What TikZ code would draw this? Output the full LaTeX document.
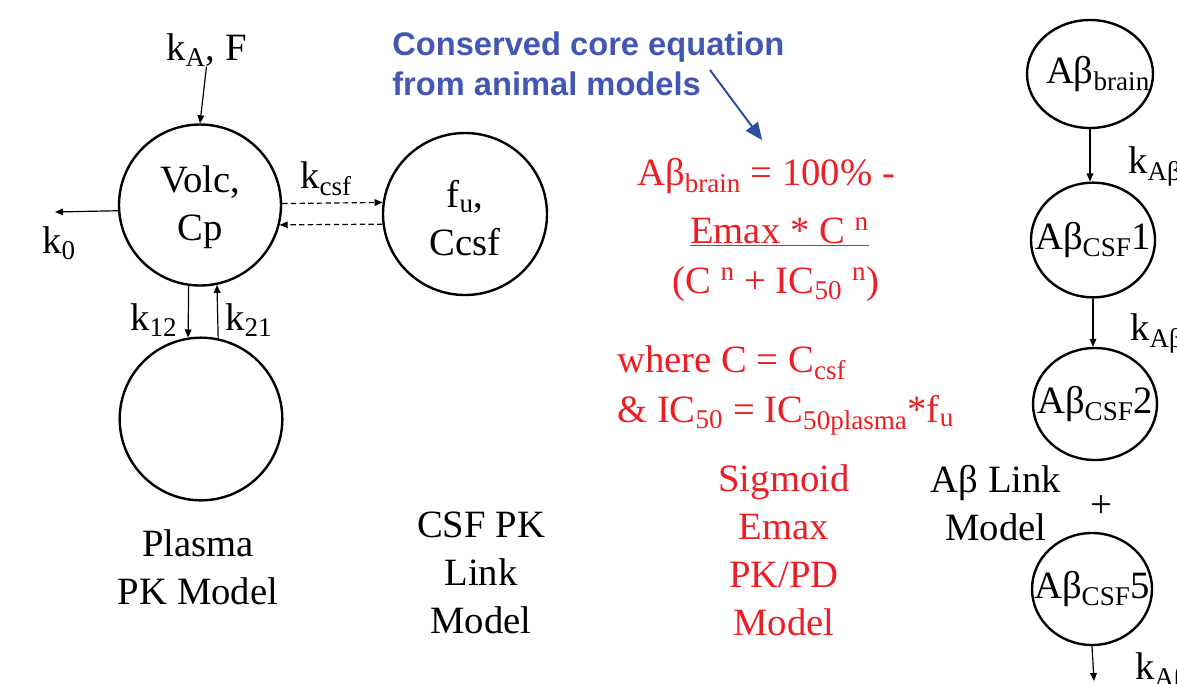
\documentclass[tikz,border=0pt]{standalone}
\usepackage{fontspec}
\setmainfont{Liberation Serif}
\newfontfamily\notefont{Liberation Sans}
\usepackage{tikz}
\usetikzlibrary{arrows.meta,shapes.geometric,calc}
\definecolor{EqRed}{HTML}{EE1D23}
\definecolor{NoteBlue}{HTML}{4356B4}
\definecolor{ArrBlue}{HTML}{2F4EA3}

\begin{document}
\begin{tikzpicture}[
  x=0.75pt, y=-0.75pt,
  font=\fontsize{29}{36}\selectfont,
  comp/.style={draw, ellipse, line width=1.8pt, inner sep=0pt},
  flow/.style={->, line width=0.9pt},
  lbl/.style={inner sep=0pt, anchor=base west},
  title/.style={inner sep=0pt, align=center, anchor=base},
  eq/.style={lbl, text=EqRed},
  >={Triangle[length=6pt,width=5pt]}
]
  \useasboundingbox (0,0) rectangle (1177,683);
  \clip (0,0) rectangle (1177,683);

  % plasma PK model
  \node[comp, minimum width=121.5pt, minimum height=120.75pt,
    label={[align=center, yshift=-2pt]center:Volc,\\Cp}] (plasma) at (200,205) {};
  \node[comp, minimum width=122pt, minimum height=122pt] (periph) at (201,419) {};
  \node[lbl] (ka) at (166,60) {k\textsubscript{A}, F};
  \node[lbl] (k0) at (42,253) {k\textsubscript{0}};
  \coordinate (elim) at (55,212);
  \node[lbl] (k12) at (130,330) {k\textsubscript{12}};
  \node[lbl] (k21) at (225,330) {k\textsubscript{21}};
  \draw[flow] (ka.south) -- (plasma.north);
  \draw[flow] (plasma.184) -- (elim);
  \draw[flow] (plasma.-98.5) -- (periph.99.2);
  \draw[flow] (periph.78.6) -- (plasma.-78.6);
  % base of a multi-line node = its last line
  \node[title] (plasmalbl) at (198,604)
    {\fontsize{29}{35.25}\selectfont Plasma\\PK Model};

  % CSF PK link model
  \node[comp, minimum width=123pt, minimum height=121.5pt,
    label={[align=center, yshift=-3pt]center:f\textsubscript{u},\\Ccsf}] (csf) at (465,214) {};
  \node[lbl] (kcsf) at (300,188) {k\textsubscript{csf}};
  \draw[flow, dash pattern=on 4pt off 2.5pt] (plasma.1.4) -- (csf.172.3);
  \draw[flow, dash pattern=on 4pt off 2.5pt] (csf.187.7) -- (plasma.-14.3);
  \node[title] (csflbl) at (481,633)
    {\fontsize{29}{36.75}\selectfont CSF PK\\Link\\Model};

  % sigmoid Emax PK/PD model
  \node[inner sep=0pt, anchor=base west, align=left, text=NoteBlue,
    font=\notefont\bfseries\fontsize{24.5}{30}\selectfont] (note) at (392,95)
    {Conserved core equation\\from animal models};
  \node[eq] (eqtop) at (637,185) {Aβ\textsubscript{brain} = 100\% -};
  \node[eq] (eqnum) at (690,243) {\underline{Emax * C \textsuperscript{n}}};
  \node[eq] (eqden) at (672,293)
    {(C \textsuperscript{n} + IC\textsubscript{50} \textsuperscript{n})};
  \node[eq] (eqc) at (617,372) {where C = C\textsubscript{csf}};
  \node[eq] (eqic) at (617,422)
    {\& IC\textsubscript{50} = IC\textsubscript{50plasma}*f\textsubscript{u}};
  \coordinate (tail) at (710,70);
  \draw[ArrBlue, line width=1.5pt, -{Triangle[length=13pt,width=11pt]}]
    (tail) -- ([xshift=-3pt,yshift=13pt]eqtop.north);
  \node[title, text=EqRed] (pkpd) at (784,635)
    {\fontsize{29}{36.75}\selectfont Sigmoid\\Emax\\PK/PD\\Model};

  % A-beta link model
  \node[comp, minimum width=94.5pt, minimum height=81pt,
    label={[xshift=6pt]center:Aβ\textsubscript{brain}}] (abbrain) at (1090,74) {};
  \node[comp, minimum width=93pt, minimum height=86pt,
    label={center:Aβ\textsubscript{CSF}1}] (ab1) at (1093,240) {};
  \node[comp, minimum width=93pt, minimum height=84pt,
    label={center:Aβ\textsubscript{CSF}2}] (ab2) at (1095,404) {};
  \node[comp, minimum width=90pt, minimum height=84pt,
    label={center:Aβ\textsubscript{CSF}5}] (ab5) at (1092,589) {};
  \coordinate (about) at (1094,681);
  \node (plus) at (1101,507) {+};
  \node[lbl] (kab1) at (1128,173) {k\textsubscript{Aβ}};
  \node[lbl] (kab2) at (1130,340) {k\textsubscript{Aβ}};
  \node[lbl] (kab3) at (1135,679) {k\textsubscript{Aβ}};
  \draw[flow] (abbrain.south) -- (abbrain.south |- ab1.north);
  \draw[flow] (ab1.south) -- (ab1.south |- ab2.north);
  \draw[flow] (ab5.south) -- (about);
  \node[title] (ablbl) at (996,540)
    {\fontsize{29}{35.25}\selectfont Aβ Link\\Model};
\end{tikzpicture}
\end{document}
